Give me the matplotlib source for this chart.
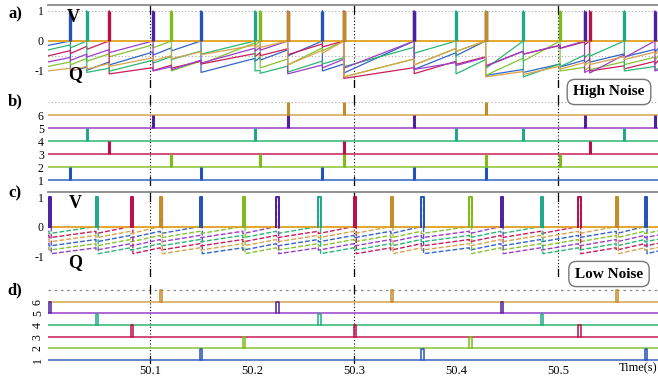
import matplotlib
matplotlib.use("Agg")
import matplotlib.pyplot as plt

SERIF = ["Liberation Serif", "DejaVu Serif"]
plt.rcParams["font.family"] = SERIF

# ---------------- data ----------------
# neuron colours (1..6)
line_colors = ["#3464c4", "#86c232", "#c81e5a", "#2bb673", "#9b3fc9", "#d6a54e"]
spike_colors = ["#2452b8", "#7dbb1c", "#b8104a", "#1fa88a", "#4a22a0", "#c48a2a"]

# spike times, high noise
hi_spk_n1 = [50.022, 50.150, 50.269, 50.359, 50.429]
hi_spk_n2 = [50.121, 50.208, 50.290, 50.429, 50.502]
hi_spk_n3 = [50.060, 50.290, 50.531]
hi_spk_n4 = [50.038, 50.203, 50.400, 50.466, 50.565]
hi_spk_n5 = [50.103, 50.235, 50.359, 50.526, 50.595]
hi_spk_n6 = [50.235, 50.290, 50.429]
hi_event_t = [50.022, 50.038, 50.060, 50.103, 50.121, 50.150, 50.203, 50.208,
              50.235, 50.269, 50.290, 50.359, 50.400, 50.429, 50.466, 50.502,
              50.526, 50.531, 50.565, 50.595]
# V (start, value after each event, end), high noise
hi_v_n1 = [-0.15, -1.00, -0.98, -0.80, -0.47, -0.33, -1.05, -0.68, -0.64, -0.50, -1.00,
           -1.07, -0.95, -0.49, -1.15, -1.05, -0.87, -0.74, -0.71, -0.53, -0.38, -0.25]
hi_v_n2 = [-0.85, -0.80, -0.68, -0.53, -0.23, -1.00, -0.77, -0.16, -0.90, -0.80, -0.33,
           -1.20, -0.80, -0.35, -1.15, -0.67, -1.00, -0.98, -0.96, -0.79, -0.64, -0.51]
hi_v_n3 = [-0.50, -0.42, -0.28, -1.10, -0.99, -0.91, -0.77, -0.52, -0.49, -0.46, -0.20,
           -1.25, -1.09, -0.78, -0.83, -0.44, -0.25, -0.13, -1.00, -0.93, -0.78, -0.66]
hi_v_n4 = [-0.30, -0.23, -1.05, -1.01, -0.74, -0.62, -0.44, -1.00, -1.08, -1.04, -0.77,
           -0.86, -0.41, -1.10, -0.92, -1.20, -0.86, -0.57, -0.51, -1.00, -0.95, -0.93]
hi_v_n5 = [-0.70, -0.65, -0.54, -0.39, -1.00, -0.96, -0.74, -0.34, -0.31, -1.10, -0.90,
           -0.91, -0.95, -0.82, -0.85, -0.44, -0.24, -1.05, -1.07, -0.56, -1.00, -0.97]
hi_v_n6 = [-1.00, -1.01, -0.94, -0.85, -0.66, -0.59, -0.46, -0.24, -0.22, -0.80, -0.41,
           -1.20, -0.80, -0.35, -1.20, -1.12, -0.94, -0.82, -0.79, -0.62, -0.47, -0.35]

# spike times, low noise
lo_spk_n1 = [50.149, 50.366, 50.585]
lo_spk_n2 = [50.191, 50.413]
lo_spk_n3 = [50.081, 50.300, 50.520]
lo_spk_n4 = [50.047, 50.265, 50.483]
lo_spk_n5 = [50.001, 50.224, 50.444]
lo_spk_n6 = [50.110, 50.336, 50.557]
lo_event_t = [50.001, 50.047, 50.081, 50.110, 50.149, 50.191, 50.224, 50.265, 50.300,
              50.336, 50.366, 50.413, 50.444, 50.483, 50.520, 50.557, 50.585]
lo_v_n1 = [-0.58, -0.66, -0.52, -0.38, -0.24, -0.92, -0.80, -0.66, -0.52, -0.38,
           -0.24, -0.92, -0.80, -0.66, -0.52, -0.38, -0.24, -0.92, -0.83]
lo_v_n2 = [-0.72, -0.80, -0.66, -0.52, -0.38, -0.24, -0.92, -0.80, -0.66, -0.52,
           -0.38, -0.24, -0.92, -0.80, -0.66, -0.52, -0.38, -0.24, -0.15]
lo_v_n3 = [-0.30, -0.38, -0.24, -0.92, -0.80, -0.66, -0.52, -0.38, -0.24, -0.92,
           -0.80, -0.66, -0.52, -0.38, -0.24, -0.92, -0.80, -0.66, -0.57]
lo_v_n4 = [-0.16, -0.24, -0.92, -0.80, -0.66, -0.52, -0.38, -0.24, -0.92, -0.80,
           -0.66, -0.52, -0.38, -0.24, -0.92, -0.80, -0.66, -0.52, -0.43]
lo_v_n5 = [0.00, -0.92, -0.80, -0.66, -0.52, -0.38, -0.24, -0.92, -0.80, -0.66,
           -0.52, -0.38, -0.24, -0.92, -0.80, -0.66, -0.52, -0.38, -0.29]
lo_v_n6 = [-0.44, -0.52, -0.38, -0.24, -0.92, -0.80, -0.66, -0.52, -0.38, -0.24,
           -0.92, -0.80, -0.66, -0.52, -0.38, -0.24, -0.92, -0.80, -0.71]

row_labels = ["1", "2", "3", "4", "5", "6"]
x_ticks = [50.1, 50.2, 50.3, 50.4, 50.5]
x_ticklabels = ["50.1", "50.2", "50.3", "50.4", "50.5"]
ref_lines = [50.1, 50.3, 50.5]

HI_KICK = 0.10
LO_KICK = 0.08
T0, T1 = 50.0, 50.598

hi_spk = [hi_spk_n1, hi_spk_n2, hi_spk_n3, hi_spk_n4, hi_spk_n5, hi_spk_n6]
hi_v = [hi_v_n1, hi_v_n2, hi_v_n3, hi_v_n4, hi_v_n5, hi_v_n6]
lo_spk = [lo_spk_n1, lo_spk_n2, lo_spk_n3, lo_spk_n4, lo_spk_n5, lo_spk_n6]
lo_v = [lo_v_n1, lo_v_n2, lo_v_n3, lo_v_n4, lo_v_n5, lo_v_n6]


def build_trace(event_t, vals, spikes, all_spikes, kick, width):
    ts, vs = [T0], [vals[0]]
    for k, t in enumerate(event_t):
        after = vals[k + 1]
        n_fire = sum(1 for sp in all_spikes for s in sp if abs(s - t) < 1e-6)
        if any(abs(s - t) < 1e-6 for s in spikes):
            ts += [t, t, t + width, t + width]
            vs += [0.0, 1.0, 1.0, after]
        else:
            ts += [t, t]
            vs += [after + kick * n_fire, after]
    ts.append(T1)
    vs.append(vals[-1])
    return ts, vs


# ---------------- figure ----------------
W, H = 658, 378
fig = plt.figure(figsize=(W / 100, H / 100), dpi=100)


def add_ax(top_px, bot_px):
    return fig.add_axes([48 / W, 1 - bot_px / H, 610 / W, (bot_px - top_px) / H])


ax_a = add_ax(5, 88)
ax_b = add_ax(95, 186)
ax_c = add_ax(192, 277)
ax_d = add_ax(285, 364)

for ax in (ax_a, ax_b, ax_c, ax_d):
    ax.set_xlim(T0, T1)
    for s in ax.spines.values():
        s.set_visible(False)
    ax.tick_params(length=0, labelsize=8.5, pad=3)
    ax.set_xticks([])
    ax.patch.set_alpha(0)


def ref_vlines(ax, xs):
    for x in xs:
        ax.axvline(x, color="black", lw=0.8, ls=(0, (1, 2)), zorder=1)
        ax.axvline(x, ymin=0.9, ymax=1.0, color="black", lw=0.9, zorder=1)
        ax.axvline(x, ymin=0.0, ymax=0.1, color="black", lw=0.9, zorder=1)


# ---- panel a (high noise V) ----
ax_a.set_ylim(-1.57, 1.2)
ax_a.spines["top"].set_visible(True)
ax_a.spines["top"].set_color("#8a8a8a")
ax_a.spines["top"].set_linewidth(1.3)
ax_a.axhline(1.0, color="#aaaaaa", lw=0.8, ls=(0, (1, 2)), zorder=0)
ax_a.axhline(-0.5, color="#aaaaaa", lw=0.8, ls=(0, (1, 2)), zorder=0)
ref_vlines(ax_a, ref_lines)
for i in range(6):
    ts, vs = build_trace(hi_event_t, hi_v[i], hi_spk[i], hi_spk, HI_KICK, 0.0)
    ax_a.plot(ts, vs, color=line_colors[i], lw=0.9, zorder=2)
ax_a.axhline(0.0, color="#e0a01c", lw=1.3, zorder=3)
for i in range(6):
    ax_a.vlines(hi_spk[i], 0.0, 1.0, color=spike_colors[i], lw=2.4, zorder=4)
ax_a.set_yticks([1, 0, -1])
ax_a.set_yticklabels(["1", "0", "-1"])

# ---- panel b (high noise raster) ----
ax_b.set_ylim(0.54, 7.54)
ax_b.axhline(7, color="#aaaaaa", lw=0.8, ls=(0, (1, 2)), zorder=0)
ref_vlines(ax_b, ref_lines)
for i in range(6):
    row = i + 1
    ax_b.plot([T0, T1], [row, row], color=line_colors[i], lw=1.1, zorder=2)
    ax_b.vlines(hi_spk[i], row, row + 0.97, color=spike_colors[i], lw=2.2, zorder=3)
ax_b.set_yticks(range(1, 7))
ax_b.set_yticklabels(row_labels)

# ---- panel c (low noise V) ----
ax_c.set_ylim(-1.71, 1.17)
ax_c.spines["top"].set_visible(True)
ax_c.spines["top"].set_color("#8a8a8a")
ax_c.spines["top"].set_linewidth(1.3)
ref_vlines(ax_c, ref_lines)
for i in range(6):
    ts, vs = build_trace(lo_event_t, lo_v[i], lo_spk[i], lo_spk, LO_KICK, 0.0022)
    ax_c.plot(ts, vs, color=line_colors[i], lw=1.0, ls=(0, (3.5, 1.5)), zorder=2)
ax_c.axhline(0.0, color="#e0a01c", lw=1.3, zorder=3)
for i in range(6):
    for t in lo_spk[i]:
        ax_c.plot([t, t, t + 0.0022, t + 0.0022], [0, 1, 1, 0],
                  color=spike_colors[i], lw=1.4, zorder=4)
ax_c.set_yticks([1, 0, -1])
ax_c.set_yticklabels(["1", "0", "-1"])

# ---- panel d (low noise raster) ----
ax_d.set_ylim(0.66, 7.43)
ax_d.axhline(7, color="#888888", lw=0.9, ls=(0, (2, 3)), zorder=0)
ref_vlines(ax_d, ref_lines[:2])
for i in range(6):
    row = i + 1
    ax_d.plot([T0, T1], [row, row], color=line_colors[i], lw=1.1, zorder=2)
    for t in lo_spk[i]:
        ax_d.plot([t, t, t + 0.0022, t + 0.0022], [row, row + 0.97, row + 0.97, row],
                  color=spike_colors[i], lw=1.1, zorder=3)
ax_d.set_yticks(range(1, 7))
ax_d.set_yticklabels(row_labels, rotation=90, va="center")
ax_d.set_xticks(x_ticks)
ax_d.set_xticklabels(x_ticklabels, fontsize=9)
ax_d.tick_params(axis="x", pad=1)


# ---------------- texts ----------------
def ftext(x, y, s, **kw):
    fig.text(x / W, 1 - y / H, s, **kw)


for lab, y in (("a)", 14), ("b)", 101), ("c)", 193), ("d)", 290)):
    ftext(15, y, lab, fontsize=12, fontweight="bold", ha="center", va="center")
ftext(73, 18, "V", fontsize=13, fontweight="bold", ha="center", va="center")
ftext(75, 75, "Q", fontsize=13, fontweight="bold", ha="center", va="center")
ftext(75, 204, "V", fontsize=13, fontweight="bold", ha="center", va="center")
ftext(75, 263, "Q", fontsize=13, fontweight="bold", ha="center", va="center")
ftext(657, 368, "Time(s)", fontsize=9, ha="right", va="center")

box = dict(boxstyle="round,pad=0.4,rounding_size=0.5", fc="white", ec="#777777", lw=1.0)
ftext(609, 92, "High Noise", fontsize=11, fontweight="bold", ha="center", va="center", bbox=box)
ftext(609, 274, "Low Noise", fontsize=11, fontweight="bold", ha="center", va="center", bbox=box)

fig.savefig("out.png", dpi=100)
